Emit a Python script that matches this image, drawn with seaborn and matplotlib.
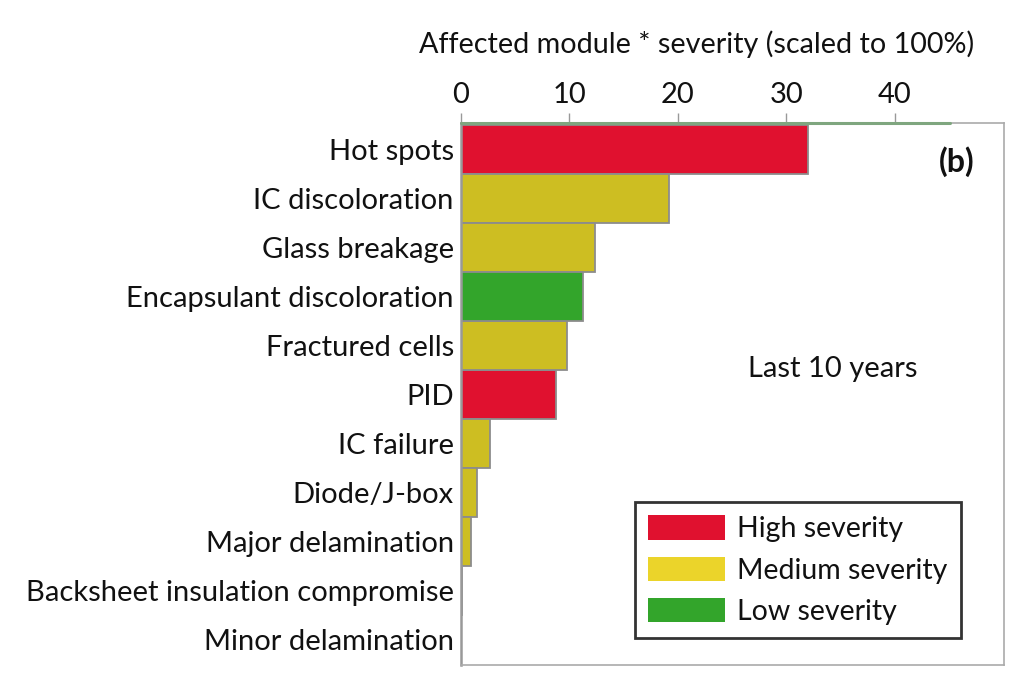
import matplotlib
matplotlib.use("Agg")
import matplotlib.pyplot as plt
import seaborn as sns
import pandas as pd
from matplotlib.patches import Patch

categories = ["Hot spots", "IC discoloration", "Glass breakage", "Encapsulant discoloration",
              "Fractured cells", "PID", "IC failure", "Diode/J-box", "Major delamination",
              "Backsheet insulation compromise", "Minor delamination"]
values = [32.0, 19.2, 12.4, 11.3, 9.8, 8.8, 2.7, 1.5, 0.9, 0.12, 0.06]
severity = ["High", "Medium", "Medium", "Low", "Medium", "High", "Medium", "Medium", "Medium",
            "Medium", "Low"]
x_ticks = [0, 10, 20, 30, 40]

bar_colors = {"High": "#E0112F", "Medium": "#CDBE22", "Low": "#33A52B"}
legend_colors = {"High": "#E0112F", "Medium": "#EBD42A", "Low": "#33A52B"}
legend_labels = ["High severity", "Medium severity", "Low severity"]

sns.set_theme(style="white")
plt.rcParams["font.family"] = ["Lato", "DejaVu Sans"]
plt.rcParams["text.color"] = "#111111"
plt.rcParams["xtick.color"] = "#111111"
plt.rcParams["ytick.color"] = "#111111"
plt.rcParams["axes.labelcolor"] = "#111111"

df = pd.DataFrame({"cat": categories, "val": values, "sev": severity})

fig = plt.figure(figsize=(10.24, 6.94), dpi=100)
ax = fig.add_axes([0.450, 0.042, 0.530, 0.781])

sns.barplot(data=df, y="cat", x="val", hue="sev", palette=bar_colors, dodge=False,
            orient="h", width=1.0, saturation=1, edgecolor="#8C8C8C", linewidth=1.3,
            legend=False, ax=ax)

ax.set_xlim(0, 50)
ax.set_ylim(10.52, -0.55)
ax.xaxis.tick_top()
ax.xaxis.set_label_position("top")
ax.set_xticks(x_ticks)
ax.set_xlabel("Affected module * severity (scaled to 100%)", fontsize=20.7)
ax.xaxis.set_label_coords(0.435, 1.145)
ax.xaxis.label.set_va("center")
ax.set_ylabel("")
ax.tick_params(axis="x", direction="out", length=7, width=1, color="#999999",
               labelsize=21, pad=4)
ax.tick_params(axis="y", direction="out", length=4, width=1, color="#AAAAAA",
               labelsize=21, pad=1)

for side in ["left", "right", "bottom", "top"]:
    ax.spines[side].set_color("#AAAAAA")
    ax.spines[side].set_linewidth(1.2)
ax.spines["left"].set_color("#999999")
ax.spines["left"].set_linewidth(1.8)
ax.plot([0, 45.1], [-0.55, -0.55], color="#7FA67F", lw=2.2, clip_on=False, zorder=5)

ax.text(0.947, 0.928, "(b)", transform=ax.transAxes, ha="right", va="center",
        fontsize=23, fontweight="bold")
ax.text(0.685, 0.545, "Last 10 years", transform=ax.transAxes, ha="center", va="center",
        fontsize=21)

handles = [Patch(facecolor=legend_colors[k], edgecolor="none") for k in ["High", "Medium", "Low"]]
leg = ax.legend(handles, legend_labels, loc="lower right", bbox_to_anchor=(0.921, 0.05),
                borderaxespad=0, fontsize=20.5, frameon=True, fancybox=False,
                handlelength=2.7, handleheight=0.95, handletextpad=0.45,
                labelspacing=0.5, borderpad=0.45)
leg.get_frame().set_edgecolor("black")
leg.get_frame().set_linewidth(2)

fig.savefig("out.png", dpi=100)
